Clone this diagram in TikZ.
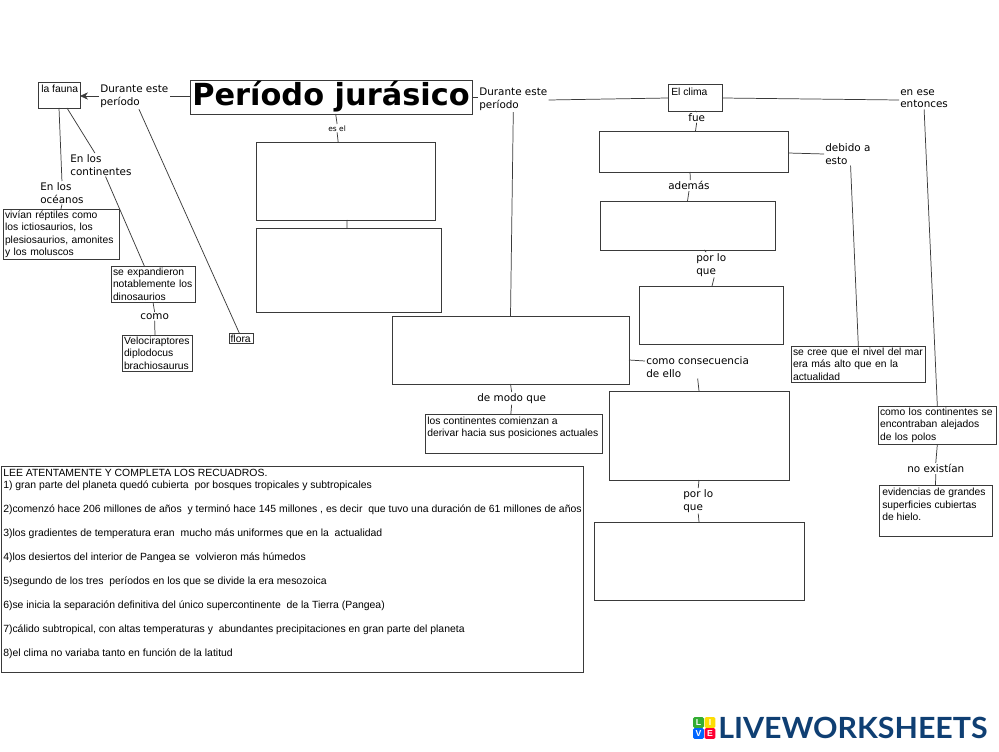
\documentclass[tikz,border=0pt]{standalone}
\usepackage{fontspec}
\usetikzlibrary{arrows.meta}
\setmainfont{Liberation Sans}
\newfontfamily\verdfont{DejaVu Sans}
\newfontfamily\logofont{Lato}
\definecolor{linegray}{HTML}{3A3A3A}
\definecolor{logoblue}{HTML}{0F3F73}
\tikzset{
  boxsize/.style 2 args = {minimum width=#1*0.75pt,minimum height=#2*0.75pt},
  blank/.style = {shape=rectangle,draw=linegray,line width=.6pt,inner sep=0pt,outer sep=0pt,anchor=north west},
  notebox/.style = {blank,inner sep=1.5pt,align=left,font=\fontsize{7.75}{9.25}\selectfont},
  notetext/.style = {anchor=north west,inner xsep=2.25pt,inner ysep=0pt,align=left,font=\fontsize{7.75}{9.25}\selectfont},
  tag/.style = {anchor=north west,inner sep=0pt,outer sep=1pt,align=left,font=\verdfont\fontsize{7.8}{9.6}\selectfont},
  link/.style = {draw=linegray,line width=.55pt},
  logotile/.style = {shape=rectangle,rounded corners=1pt,minimum size=8pt,inner sep=0pt,text=white,font=\bfseries\fontsize{6.5}{7}\selectfont}
}
\begin{document}
\begin{tikzpicture}[x=0.75pt,y=-0.75pt]
    \useasboundingbox (0,0) rectangle (999,752);
    % boxes
    \node[blank,boxsize={282}{34}] (title) at (190,80) {};
    \node[inner sep=0pt,font=\verdfont\bfseries\fontsize{22.8}{26}\selectfont] (titletext) at (title.center) {Período jurásico};
    \node[blank,boxsize={42}{26}] (fauna) at (38,82) {};
    \node[notetext] (faunatext) at ([yshift=-1.7pt]fauna.north west) {la fauna};
    \node[blank,boxsize={179}{78}] (defbox) at (256,142) {};
    \node[blank,boxsize={185}{84}] (erabox) at (256,228) {};
    \node[notebox,text width=84pt] (oceanbox) at (3,209) {vivían réptiles como\\los ictiosaurios, los\\plesiosaurios, amonites\\y los moluscos};
    \node[notebox,text width=60pt] (dinobox) at (111,266) {se expandieron\\notablemente los\\dinosaurios};
    \node[notebox,text width=49.5pt] (velobox) at (122,335) {Velociraptores\\diplodocus\\brachiosaurus};
    \node[notebox,text width=16pt,inner sep=1.2pt] (flora) at (229,333) {flora};
    \node[blank,boxsize={237}{68}] (pangea) at (392,316) {};
    \node[blank,boxsize={177}{39}] (derivar) at (425,414) {};
    \node[notetext,inner xsep=1.5pt] (derivartext) at ([yshift=-1.7pt]derivar.north west) {los continentes comienzan a\\derivar hacia sus posiciones actuales};
    \node[blank,boxsize={54}{27}] (clima) at (668,84) {};
    \node[notetext] (climatext) at ([yshift=-3pt]clima.north west) {El clima};
    \node[blank,boxsize={189}{41}] (calido) at (599,131) {};
    \node[blank,boxsize={175}{49}] (latitud) at (600,201) {};
    \node[blank,boxsize={144}{58}] (desiertos) at (639,286) {};
    \node[notebox,text width=98pt] (nivel) at (791,346) {se cree que el nivel del mar\\era más alto que en la\\actualidad};
    \node[blank,boxsize={180}{89}] (uniforme) at (609,391) {};
    \node[blank,boxsize={210}{78}] (bosques) at (594,522) {};
    \node[notebox,text width=86pt] (polos) at (878,406) {como los continentes se\\encontraban alejados\\de los polos};
    \node[blank,boxsize={113}{51}] (hielo) at (879,485) {};
    \node[notetext] (hielotext) at ([yshift=-2.25pt]hielo.north west) {evidencias de grandes\\superficies cubiertas\\de hielo.};
    % labels
    \node[tag] (duranteA) at (99,84) {Durante este\\período};
    \node[tag] (conti) at (69,153) {En los\\continentes};
    \node[tag] (ocean) at (39,181) {En los\\océanos};
    \node[tag] (como) at (139,312) {como};
    \node[tag,font=\verdfont\fontsize{5.6}{7}\selectfont] (esel) at (327,124) {es el};
    \node[tag] (duranteB) at (478,87) {Durante este\\período};
    \node[tag] (fue) at (687,112) {fue};
    \node[tag] (ademas) at (667,180) {además};
    \node[tag] (porloA) at (695,252) {por lo\\que};
    \node[tag] (debido) at (824,142) {debido a\\esto};
    \node[tag] (entonces) at (899,88) {en ese\\entonces};
    \node[tag] (consec) at (645,355) {como consecuencia\\de ello};
    \node[tag] (modo) at (476,392) {de modo que};
    \node[tag] (porloB) at (682,488) {por lo\\que};
    \node[tag] (noexist) at (906,463) {no existían};
    % connectors
    \draw[link] (title.west |- 0,96) -- (duranteA.east |- 0,96);
    \draw[link,-{Stealth[length=6pt,width=5.5pt]}] (duranteA.west |- 0,96) -- (fauna.east |- 0,96);
    \draw[link] ([xshift=3.5]duranteA.south) -- ([xshift=-1.5]flora.north);
    \draw[link] (fauna.south) -- (ocean.north);
    \draw[link] (ocean.south) -- (oceanbox.north);
    \draw[link] ([xshift=6]fauna.south) -- ([xshift=-4.5]conti.north);
    \draw[link] ([xshift=3.5]conti.south) -- ([xshift=-6.5]dinobox.north);
    \draw[link] (dinobox.south) -- (como.north);
    \draw[link] (como.south) -- ([xshift=-1.5]velobox.north);
    \draw[link] ([xshift=3.5]title.south) -- (esel.north);
    \draw[link] (esel.south) -- ([xshift=-5.5]defbox.north);
    \draw[link] ([xshift=1.1]defbox.south) -- ([xshift=-1.1]erabox.north);
    \draw[link] (title.east |- 0,97) -- (duranteB.west |- 0,97);
    \draw[link] (duranteB.east |- 0,100) -- (clima.west |- 0,98);
    \draw[link] (duranteB.south) -- (pangea.north);
    \draw[link] (pangea.south) -- (modo.north);
    \draw[link] (modo.south) -- ([xshift=-2]derivar.north);
    \draw[link] (pangea.east |- 0,360) -- (consec.west |- 0,361);
    \draw[link] (consec.south) -- (uniforme.north);
    \draw[link] (uniforme.south) -- (porloB.north);
    \draw[link] (porloB.south) -- (bosques.north);
    \draw[link] (clima.east |- 0,98) -- (entonces.west |- 0,100);
    \draw[link] (entonces.south) -- (polos.north);
    \draw[link] (clima.south) -- (fue.north);
    \draw[link] (fue.south) -- ([xshift=1.5]calido.north);
    \draw[link] (calido.east |- 0,153) -- (debido.west |- 0,154);
    \draw[link] ([xshift=2]debido.south) -- (nivel.north);
    \draw[link] ([xshift=-2.6]calido.south) -- ([xshift=1]ademas.north);
    \draw[link] (ademas.south) -- (latitud.north);
    \draw[link] ([xshift=12.4]latitud.south) -- ([xshift=-3.75]porloA.north);
    \draw[link] ([xshift=2.2]porloA.south) -- ([xshift=.75]desiertos.north);
    \draw[link] (polos.south) -- (noexist.north);
    \draw[link] (noexist.south) -- (hielo.north);
    % instructions
    \node[blank,boxsize={582}{206}] (lectura) at (1,466) {};
    \node[notetext,inner xsep=1.5pt,inner ysep=2pt,font=\fontsize{7.82}{9}\selectfont] (lecturatext) at (lectura.north west) {LEE ATENTAMENTE Y COMPLETA LOS RECUADROS.\\
    1) gran parte del planeta quedó cubierta~ por bosques tropicales y subtropicales\\[9pt]
    2)comenzó hace 206 millones de años~ y terminó hace 145 millones , es decir~ que tuvo una duración de 61 millones de años\\[9pt]
    3)los gradientes de temperatura eran~ mucho más uniformes que en la~ actualidad\\[9pt]
    4)los desiertos del interior de Pangea se~ volvieron más húmedos\\[9pt]
    5)segundo de los tres~ períodos en los que se divide la era mesozoica\\[9pt]
    6)se inicia la separación definitiva del único supercontinente~ de la Tierra (Pangea)\\[9pt]
    7)cálido subtropical, con altas temperaturas y~ abundantes precipitaciones en gran parte del planeta\\[9pt]
    8)el clima no variaba tanto en función de la latitud};
    % logo
    \node[logotile,fill=green!60!black!80!white] (logoL) at (698.5,722.5) {L};
    \node[logotile,fill=yellow!80!orange] (logoI) at (710,722.5) {I};
    \node[logotile,fill=blue!60!cyan] (logoV) at (698.5,733.5) {V};
    \node[logotile,fill=red!80!magenta] (logoE) at (710,733.5) {E};
    \node[anchor=west,inner sep=0pt,text=logoblue] (logotext) at (718,728) {\resizebox{202pt}{16pt}{\logofont\bfseries LIVEWORKSHEETS}};
\end{tikzpicture}
\end{document}
